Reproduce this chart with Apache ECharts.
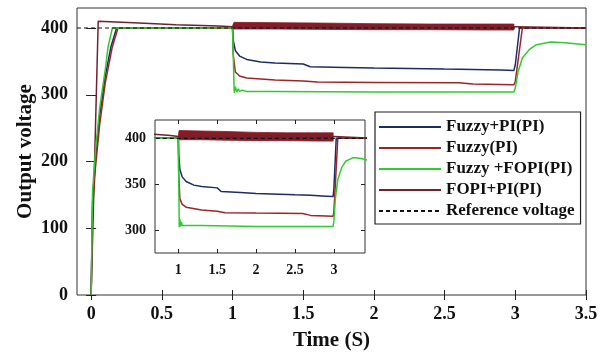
<!DOCTYPE html>
<html>
<head>
<meta charset="utf-8">
<script src="https://cdn.jsdelivr.net/npm/echarts@6/dist/echarts.min.js"></script>
<style>
  html, body { margin: 0; padding: 0; background: #fff; }
  #chart { width: 607px; height: 356px; }
</style>
</head>
<body>
<div id="chart"></div>
<script>
// time (s) / voltage samples
var tFuzzyPI = [0, 0.01, 0.03, 0.06, 0.1, 0.14, 0.18, 0.5, 1.0, 1.005, 1.02, 1.05, 1.1, 1.2, 1.3, 1.5, 1.55, 1.8, 2.0, 2.5, 2.7, 2.9, 2.99, 3.0, 3.03, 3.5];
var vFuzzyPI = [0, 140, 200, 268, 328, 372, 400, 400, 400, 382, 366, 358, 353, 349, 347.5, 346, 342, 341, 340, 338.5, 338, 337, 336.5, 345, 400, 400];

var tFuzzy = [0, 0.01, 0.03, 0.06, 0.1, 0.15, 0.19, 0.5, 1.0, 1.005, 1.02, 1.05, 1.1, 1.3, 1.5, 1.6, 2.0, 2.6, 2.7, 2.99, 3.0, 3.05, 3.5];
var vFuzzy = [0, 130, 190, 255, 318, 372, 400, 400, 400, 360, 334, 328, 325, 322, 320.5, 319, 318.5, 318, 316, 315, 320, 400, 400];

var tFuzzyFopi = [0, 0.01, 0.03, 0.06, 0.1, 0.12, 0.15, 0.5, 1.0, 1.012, 1.02, 1.03, 1.04, 1.05, 1.07, 1.1, 1.3, 2.0, 2.99, 3.0, 3.02, 3.05, 3.1, 3.15, 3.25, 3.35, 3.5];
var vFuzzyFopi = [0, 155, 215, 280, 338, 372, 400, 400, 400, 303, 312, 304, 309, 305, 307, 305, 305, 304, 304, 310, 335, 355, 368, 375, 379, 378, 375];

var tFopiPI = [0, 0.05, 0.3, 0.6, 0.9, 1.0, 3.0, 3.01, 3.5];
var vFopiPI = [0, 410, 408, 405, 403, 402, 402, 400, 400];

// oscillating band of FOPI+PI(PI) between 1 s and 3 s
var bandT = [1.0, 1.01, 1.3, 1.6, 2.0, 2.4, 2.8, 2.99];
var bandLow = [399, 398.5, 398.5, 398, 397.5, 397.5, 397, 397];
var bandHigh = [403, 408.5, 408, 407.5, 406.5, 406, 406, 406];

var tRef = [-0.1, 3.5];
var vRef = [400, 400];

var mainXTicks = [0, 0.5, 1, 1.5, 2, 2.5, 3, 3.5];
var mainYTicks = [0, 100, 200, 300, 400];
var insetXTicks = [1, 1.5, 2, 2.5, 3];
var insetYTicks = [300, 350, 400];

var names = ['Fuzzy+PI(PI)', 'Fuzzy(PI)', 'Fuzzy +FOPI(PI)', 'FOPI+PI(PI)', 'Reference voltage'];
var colors = ['#1c2c66', '#9e2424', '#2fcc2f', '#6e2232', '#111111'];
var bandColor = '#8a1a24';

function pairs(t, v) {
    return t.map(function (x, i) { return [x, v[i]]; });
}

var font = 'Liberation Serif';

// band drawn as one polygon: upper edge forward, lower edge back
function renderBand(params, api) {
    if (params.dataIndex !== 0) return null;
    var pts = [];
    for (var i = 0; i < bandT.length; i++) pts.push(api.coord([bandT[i], bandHigh[i]]));
    for (var j = bandT.length - 1; j >= 0; j--) pts.push(api.coord([bandT[j], bandLow[j]]));
    return {
        type: 'polygon',
        shape: {points: pts},
        style: {fill: bandColor, stroke: bandColor, lineWidth: 0.8}
    };
}

function makeSeries(ax, z) {
    var base = {type: 'line', symbol: 'none', xAxisIndex: ax, yAxisIndex: ax, z: z, clip: true};
    function line(name, data, color, extra) {
        return Object.assign({}, base, {
            name: name, data: data,
            lineStyle: Object.assign({color: color, width: 1.5}, extra || {}),
            itemStyle: {color: color}
        });
    }
    return [
        {
            type: 'custom', name: 'band' + ax, xAxisIndex: ax, yAxisIndex: ax, z: z,
            data: pairs(bandT, bandHigh),
            renderItem: renderBand,
            encode: {x: 0, y: 1}
        },
        line(names[3], pairs(tFopiPI, vFopiPI), colors[3]),
        line(names[0], pairs(tFuzzyPI, vFuzzyPI), colors[0]),
        line(names[1], pairs(tFuzzy, vFuzzy), colors[1]),
        line(names[2], pairs(tFuzzyFopi, vFuzzyFopi), colors[2]),
        Object.assign(line(names[4], pairs(tRef, vRef), colors[4], {type: [4, 3], width: 1.2}), {z: z + 1})
    ];
}

function axis(grid, pos, min, max, ticks, showLabel, size, z) {
    return {
        type: 'value', gridIndex: grid, position: pos, min: min, max: max, z: z,
        axisLine: {show: false},
        splitLine: {show: false},
        axisTick: {inside: true, length: 5, customValues: ticks, lineStyle: {color: '#222'}},
        axisLabel: {show: showLabel, customValues: ticks, margin: 10, color: '#111',
            fontFamily: font, fontWeight: 'bold', fontSize: size}
    };
}

var chart = echarts.init(document.getElementById('chart'), null, {renderer: 'canvas'});

var mainXBottom = axis(0, 'bottom', -0.1, 3.5, mainXTicks, true, 18, 1);
mainXBottom.name = 'Time (S)';
mainXBottom.nameLocation = 'middle';
mainXBottom.nameGap = 35;
mainXBottom.nameTextStyle = {fontFamily: font, fontWeight: 'bold', fontSize: 21, color: '#111'};

var mainYLeft = axis(0, 'left', 0, 430, mainYTicks, true, 18, 1);
mainYLeft.axisLabel.margin = 9;
mainYLeft.name = 'Output voltage';
mainYLeft.nameLocation = 'middle';
mainYLeft.nameGap = 41;
mainYLeft.nameMoveOverlap = false;
mainYLeft.nameTextStyle = {fontFamily: font, fontWeight: 'bold', fontSize: 21, color: '#111'};

var insetXBottom = axis(1, 'bottom', 0.7, 3.4, insetXTicks, true, 14, 6);
insetXBottom.axisTick.length = 4;
var insetXTop = axis(1, 'top', 0.7, 3.4, insetXTicks, false, 14, 6);
insetXTop.axisTick.length = 4;
var insetYLeft = axis(1, 'left', 275, 420, insetYTicks, true, 14, 6);
insetYLeft.axisTick.length = 4;
insetYLeft.axisLabel.margin = 9;
var insetYRight = axis(1, 'right', 275, 420, insetYTicks, false, 14, 6);
insetYRight.axisTick.length = 4;

var option = {
    animation: false,
    backgroundColor: '#fff',
    grid: [
        {left: 77, top: 8, right: 21, bottom: 61, show: true, backgroundColor: '#fff',
            borderColor: '#333', borderWidth: 1, z: 0},
        {left: 155, top: 120, right: 242, bottom: 103, show: true, backgroundColor: '#fff',
            borderColor: '#333', borderWidth: 1, z: 5}
    ],
    legend: {
        data: names,
        orient: 'vertical',
        left: 375, top: 112,
        itemWidth: 62, itemHeight: 14, itemGap: 1,
        itemStyle: {opacity: 0},
        padding: [5, 6, 3, 3],
        borderColor: '#222', borderWidth: 1.2,
        backgroundColor: '#fff',
        z: 10,
        textStyle: {fontFamily: font, fontWeight: 'bold', fontSize: 17, lineHeight: 20, color: '#111'}
    },
    xAxis: [
        mainXBottom,
        axis(0, 'top', -0.1, 3.5, mainXTicks, false, 18, 1),
        insetXBottom,
        insetXTop
    ],
    yAxis: [
        mainYLeft,
        axis(0, 'right', 0, 430, mainYTicks, false, 18, 1),
        insetYLeft,
        insetYRight
    ],
    series: makeSeries(0, 2).concat(makeSeries(2, 7))
};

chart.setOption(option);
</script>
</body>
</html>
